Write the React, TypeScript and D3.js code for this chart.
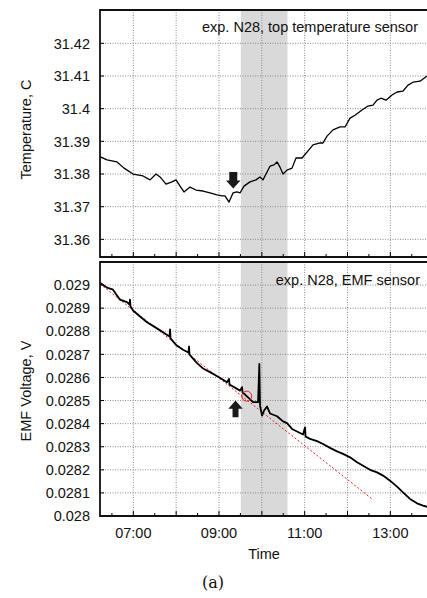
import * as React from 'react';
import * as d3 from 'd3';

// time in decimal hours
const tempTime = [6.222, 6.386, 6.619, 6.783, 6.993, 7.226, 7.39, 7.53, 7.623, 7.763, 7.903, 7.997, 8.09, 8.183, 8.323, 8.463, 8.627, 8.79, 8.954, 9.07, 9.14, 9.234, 9.327, 9.42, 9.49, 9.584, 9.724, 9.864, 9.957, 10.027, 10.097, 10.191, 10.284, 10.354, 10.425, 10.495, 10.588, 10.705, 10.798, 10.938, 11.055, 11.195, 11.358, 11.428, 11.522, 11.662, 11.825, 11.942, 12.059, 12.175, 12.339, 12.479, 12.595, 12.689, 12.782, 12.899, 13.039, 13.156, 13.296, 13.413, 13.529, 13.693, 13.856];
const tempValue = [31.3853, 31.3843, 31.3837, 31.3818, 31.38, 31.3794, 31.3782, 31.38, 31.3791, 31.3769, 31.3776, 31.3782, 31.3763, 31.3745, 31.376, 31.3751, 31.3748, 31.3742, 31.3736, 31.3733, 31.3733, 31.3714, 31.3742, 31.3745, 31.3742, 31.3763, 31.3776, 31.3782, 31.3791, 31.3782, 31.38, 31.3824, 31.3828, 31.3837, 31.3821, 31.38, 31.3812, 31.3818, 31.3849, 31.3849, 31.3867, 31.3889, 31.3895, 31.3895, 31.3916, 31.3935, 31.3944, 31.3944, 31.3971, 31.398, 31.3996, 31.4008, 31.4011, 31.4026, 31.4032, 31.4026, 31.4042, 31.4051, 31.4054, 31.4072, 31.4081, 31.4084, 31.41];

const emfTime = [6.222, 6.386, 6.526, 6.619, 6.689, 6.853, 6.911, 6.922, 6.935, 6.993, 7.156, 7.32, 7.506, 7.693, 7.845, 7.857, 7.869, 7.997, 8.16, 8.289, 8.3, 8.312, 8.487, 8.627, 8.79, 9.0, 9.187, 9.234, 9.246, 9.328, 9.491, 9.538, 9.55, 9.608, 9.678, 9.795, 9.912, 9.942, 9.958, 10.005, 10.052, 10.122, 10.191, 10.355, 10.495, 10.589, 10.705, 10.822, 10.962, 11.009, 11.021, 11.126, 11.289, 11.429, 11.593, 11.756, 11.896, 12.059, 12.223, 12.363, 12.526, 12.689, 12.829, 12.993, 13.156, 13.296, 13.459, 13.623, 13.763, 13.856];
const emfValue = [0.02901, 0.028989, 0.02898, 0.028955, 0.028937, 0.028926, 0.028916, 0.028937, 0.028907, 0.02889, 0.028864, 0.028839, 0.028818, 0.028796, 0.028777, 0.028808, 0.028769, 0.028741, 0.02872, 0.028708, 0.028734, 0.028699, 0.028662, 0.028639, 0.028623, 0.028601, 0.028579, 0.028594, 0.028569, 0.028561, 0.028543, 0.028558, 0.028535, 0.028526, 0.028514, 0.028493, 0.028493, 0.028659, 0.028478, 0.028435, 0.028457, 0.028474, 0.028444, 0.028432, 0.02841, 0.028402, 0.028377, 0.028366, 0.028353, 0.028384, 0.028344, 0.028334, 0.028324, 0.028312, 0.028295, 0.02828, 0.028269, 0.028254, 0.028233, 0.028218, 0.0282, 0.028189, 0.028175, 0.028153, 0.028127, 0.028102, 0.028074, 0.028055, 0.028045, 0.02804];

const fitTime = [6.222, 12.6];
const fitValue = [0.029005, 0.02807];

const shadeRange = [9.51, 10.6];
const arrowTemp = [9.333, 31.3756];
const arrowEmf = [9.386, 0.0285];
const circleEmf = [9.647, 0.028519];

const tempTicks = [31.36, 31.37, 31.38, 31.39, 31.4, 31.41, 31.42];
const tempTickLabels = ['31.36', '31.37', '31.38', '31.39', '31.4', '31.41', '31.42'];
const emfTicks = [0.028, 0.0281, 0.0282, 0.0283, 0.0284, 0.0285, 0.0286, 0.0287, 0.0288, 0.0289, 0.029];
const emfTickLabels = ['0.028', '0.0281', '0.0282', '0.0283', '0.0284', '0.0285', '0.0286', '0.0287', '0.0288', '0.0289', '0.029'];
const hourTicks = [7, 8, 9, 10, 11, 12, 13];
const timeLabelHours = [7, 9, 11, 13];
const timeTickLabels = ['07:00', '09:00', '11:00', '13:00'];
const halfHourTicks = [6.5, 7.5, 8.5, 9.5, 10.5, 11.5, 12.5, 13.5];

const FONT = '"Liberation Sans", Arial, Helvetica, sans-serif';

export default function App() {
    let left = 100, right = 430;
    let top1 = 10, bot1 = 257, top2 = 262, bot2 = 516;

    let x = d3.scaleLinear().domain([6.222, 13.926]).range([left, right]);
    let yT = d3.scaleLinear().domain([31.3546, 31.4302]).range([bot1, top1]);
    let yE = d3.scaleLinear().domain([0.028, 0.0291]).range([bot2, top2]);

    let tempLine = d3.line<number>().x((d, i) => x(tempTime[i])).y((d) => yT(d));
    let emfLine = d3.line<number>().x((d, i) => x(emfTime[i])).y((d) => yE(d));
    let fitLine = d3.line<number>().x((d, i) => x(fitTime[i])).y((d) => yE(d));

    let grid = '#8a8a8a';

    const panel = (top: number, bot: number, y: d3.ScaleLinear<number, number>, ticks: number[], labels: string[]) => (
        <g>
            <rect x={x(shadeRange[0])} y={top} width={x(shadeRange[1]) - x(shadeRange[0])} height={bot - top} fill="#d9d9d9" />
            {ticks.map((t, i) => (
                <g key={'h' + i}>
                    <line x1={left} x2={right} y1={y(t)} y2={y(t)} stroke={grid} strokeWidth={1} strokeDasharray="1,1.5" />
                    <line x1={left} x2={left + 4} y1={y(t)} y2={y(t)} stroke="#000" strokeWidth={1} />
                    <text x={90} y={y(t)} dy="0.36em" textAnchor="end" fontSize={14.5} fontFamily={FONT} fill="#111">{labels[i]}</text>
                </g>
            ))}
            {hourTicks.map((h) => (
                <g key={'v' + h}>
                    <line x1={x(h)} x2={x(h)} y1={top} y2={bot} stroke={grid} strokeWidth={1} strokeDasharray="1,1.5" />
                    <line x1={x(h)} x2={x(h)} y1={bot} y2={bot - 5} stroke="#000" strokeWidth={1} />
                </g>
            ))}
            {halfHourTicks.map((h) => (
                <line key={'m' + h} x1={x(h)} x2={x(h)} y1={bot} y2={bot - 3} stroke="#000" strokeWidth={1} />
            ))}
        </g>
    );

    const arrow = (tx: number, ty: number, dir: number, headW: number, headH: number, shaftW: number, shaftL: number) => {
        // dir = 1 points down, -1 points up
        let p = [
            [tx, ty],
            [tx - headW / 2, ty - dir * headH],
            [tx - shaftW / 2, ty - dir * headH],
            [tx - shaftW / 2, ty - dir * (headH + shaftL)],
            [tx + shaftW / 2, ty - dir * (headH + shaftL)],
            [tx + shaftW / 2, ty - dir * headH],
            [tx + headW / 2, ty - dir * headH],
        ];
        return <path d={'M' + p.map((q) => q.join(',')).join('L') + 'Z'} fill="#1a1a1a" />;
    };

    return (
        <svg width={427} height={598} style={{ position: 'absolute', left: 0, top: 0, background: '#fff' }}>
            <defs>
                <clipPath id="c1"><rect x={left} y={top1} width={right - left} height={bot1 - top1} /></clipPath>
                <clipPath id="c2"><rect x={left} y={top2} width={right - left} height={bot2 - top2} /></clipPath>
            </defs>

            {panel(top1, bot1, yT, tempTicks, tempTickLabels)}
            {panel(top2, bot2, yE, emfTicks, emfTickLabels)}

            <g clipPath="url(#c1)">
                <path d={tempLine(tempValue) || ''} fill="none" stroke="#000" strokeWidth={1.3} strokeLinejoin="round" />
            </g>
            <g clipPath="url(#c2)">
                <path d={fitLine(fitValue) || ''} fill="none" stroke="#ee1c1c" strokeWidth={1} strokeDasharray="2,2" />
                <path d={emfLine(emfValue) || ''} fill="none" stroke="#000" strokeWidth={1.8} strokeLinejoin="round" />
                <circle cx={x(circleEmf[0])} cy={yE(circleEmf[1])} r={5} fill="none" stroke="#e32222" strokeWidth={1} />
            </g>

            {arrow(x(arrowTemp[0]), yT(arrowTemp[1]), 1, 14.5, 8, 8, 8.5)}
            {arrow(x(arrowEmf[0]), yE(arrowEmf[1]), -1, 14.4, 8.3, 6, 8.4)}

            {/* frames */}
            <path d={`M${right},${top1}H${left}V${bot1}H${right}`} fill="none" stroke="#111" strokeWidth={1.8} />
            <path d={`M${right},${top2}H${left}V${bot2}H${right}`} fill="none" stroke="#111" strokeWidth={1.8} />

            <text x={418} y={31.5} textAnchor="end" fontSize={14.5} fontFamily={FONT} fill="#111">exp. N28, top temperature sensor</text>
            <text x={420} y={285} textAnchor="end" fontSize={14.5} fontFamily={FONT} fill="#111">exp. N28, EMF sensor</text>

            {timeLabelHours.map((h, i) => (
                <text key={h} x={x(h)} y={538} textAnchor="middle" fontSize={14.5} fontFamily={FONT} fill="#111">{timeTickLabels[i]}</text>
            ))}
            <text x={264} y={559} textAnchor="middle" fontSize={14.5} fontFamily={FONT} fill="#111">Time</text>

            <text transform={`translate(31,${(top1 + bot1) / 2 - 4}) rotate(-90)`} textAnchor="middle" fontSize={14.5} fontFamily={FONT} fill="#111">Temperature, C</text>
            <text transform={`translate(31,${(top2 + bot2) / 2 + 2}) rotate(-90)`} textAnchor="middle" fontSize={14.5} fontFamily={FONT} fill="#111">EMF Voltage, V</text>

            <text x={213} y={588} textAnchor="middle" fontSize={16} fontFamily='"DejaVu Serif", serif' fill="#111">(a)</text>
        </svg>
    );
}
